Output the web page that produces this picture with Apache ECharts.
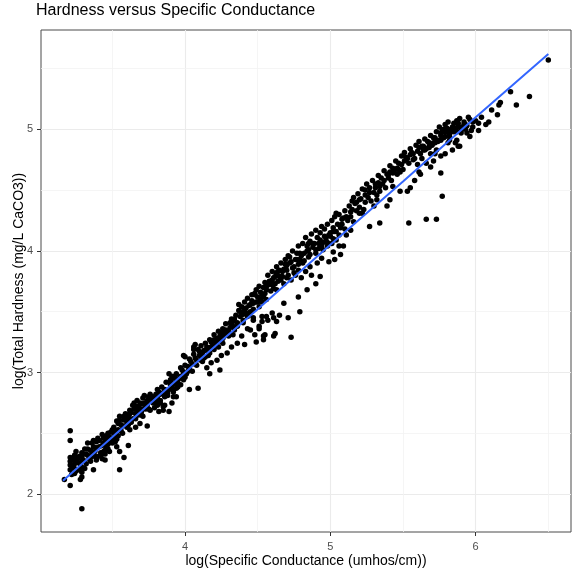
<!DOCTYPE html>
<html><head><meta charset="utf-8">
<script src="https://cdn.jsdelivr.net/npm/echarts@6/dist/echarts.min.js"></script>
<style>html,body{margin:0;padding:0;background:#fff}#c{width:573px;height:571px}</style>
</head><body><div id="c"></div>
<script>
const chartTitle = 'Hardness versus Specific Conductance';
const xTitle = 'log(Specific Conductance (umhos/cm))';
const yTitle = 'log(Total Hardness (mg/L CaCO3))';
const xTicks = [4, 5, 6];
const yTicks = [2, 3, 4, 5];
const xMinorGrid = [3.5, 4.5, 5.5, 6.5];
const yMinorGrid = [2.5, 3.5, 4.5, 5.5];
const xRange = [3.009, 6.656];
const yRange = [1.688, 5.817];

// smoothed fit line
const fitX = [3.16, 3.5, 4.0, 4.5, 5.0, 5.5, 6.0, 6.5];
const fitY = [2.11, 2.47, 3.00, 3.52, 4.05, 4.57, 5.10, 5.62];

// observations [log conductance, log hardness]
const obsLow = [
[3.17,2.12],[3.21,2.07],[3.21,2.52],[3.21,2.44],[3.21,2.30],[3.21,2.27],[3.21,2.24],[3.21,2.20],[3.22,2.16],[3.24,2.32],[3.24,2.28],[3.24,2.25],[3.24,2.21],[3.24,2.17],[3.25,2.35],[3.26,2.29],[3.26,2.26],[3.29,2.34],[3.29,2.31],[3.29,2.27],[3.29,2.22],[3.29,2.18],[3.29,2.14],[3.29,1.88],[3.28,2.12],[3.27,2.20],
[3.33,2.42],[3.35,2.36],[3.37,2.39],[3.39,2.43],[3.40,2.46],[3.43,2.49],[3.44,2.42],[3.46,2.44],[3.38,2.31],[3.42,2.32],[3.45,2.36],[3.46,2.39],[3.35,2.27],[3.37,2.20],[3.43,2.29],[3.47,2.50],[3.50,2.53],[3.50,2.46],[3.48,2.35],[3.45,2.28],[3.32,2.25],[3.33,2.32],
[3.30,2.28],[3.31,2.37],[3.32,2.33],[3.35,2.30],[3.36,2.42],[3.38,2.35],[3.39,2.28],[3.41,2.39],[3.42,2.34],[3.44,2.46],[3.45,2.33],[3.47,2.41],[3.48,2.47],
[3.22,2.23],[3.23,2.29],[3.25,2.19],[3.27,2.31],[3.28,2.24],[3.30,2.33],[3.31,2.21],[3.33,2.37],[3.34,2.29],[3.36,2.34],[3.37,2.44],[3.39,2.38],[3.40,2.31],[3.41,2.44],[3.43,2.40],[3.44,2.35],[3.46,2.48],[3.47,2.37],[3.49,2.44],[3.49,2.51]
];
const obsMidLow = [
[3.51,2.55],[3.52,2.49],[3.53,2.60],[3.54,2.53],[3.55,2.64],[3.56,2.57],[3.58,2.61],[3.59,2.66],[3.60,2.55],[3.61,2.64],[3.62,2.69],[3.63,2.61],[3.64,2.73],[3.66,2.66],[3.67,2.77],[3.68,2.71],[3.69,2.75],[3.70,2.68],[3.71,2.79],[3.73,2.72],[3.74,2.76],[3.75,2.80],[3.76,2.82],[3.76,2.69],
[3.55,2.35],[3.58,2.30],[3.55,2.20],[3.61,2.40],[3.69,2.58],[3.74,2.56],[3.52,2.43],[3.53,2.39],[3.62,2.53],[3.66,2.55],[3.71,2.64],
[3.50,2.42],[3.51,2.50],[3.53,2.45],[3.54,2.58],[3.56,2.52],[3.57,2.56],[3.59,2.62],[3.60,2.58],[3.62,2.66],[3.63,2.59],[3.65,2.70],[3.66,2.62],[3.67,2.68],[3.69,2.70],[3.70,2.65],[3.72,2.75],[3.73,2.70],[3.75,2.78],
[3.74,2.77],[3.77,2.80],[3.81,2.79],[3.83,2.75],[3.85,2.72],[3.79,2.71],[3.84,2.83],[3.86,2.86],[3.87,2.82],[3.90,2.94],[3.91,2.88],[3.92,2.84],[3.89,2.99],[3.93,2.97],[3.94,2.87],[3.92,2.80],[3.97,2.90],[3.99,2.94],[4.01,2.99],[4.00,3.13],[4.03,3.04],[4.06,3.21],[4.06,3.19],[4.03,2.86],[4.09,2.87],
[3.79,2.80],[3.83,2.77],[3.85,2.69],[3.89,2.68],[3.82,2.68],[3.88,2.81],[3.92,2.86],[3.94,2.80],[3.95,2.88],[3.91,2.75],[3.86,2.73],[3.81,2.73],
[3.80,2.76],[3.82,2.84],[3.88,2.83],[3.90,2.92],[3.93,2.95],[3.95,2.92],[3.97,2.97],[3.98,3.02],[4.00,2.96],[4.02,3.05],
[3.52,2.52],[3.54,2.48],[3.55,2.61],[3.57,2.50],[3.58,2.64],[3.60,2.61],[3.61,2.57],[3.63,2.67],[3.64,2.62],[3.65,2.75],[3.67,2.72],[3.68,2.65],[3.70,2.74],[3.71,2.70],[3.72,2.81],[3.74,2.73],[3.75,2.70],[3.77,2.78],[3.78,2.75],[3.80,2.82],
[3.81,2.86],[3.83,2.82],[3.84,2.88],[3.86,2.80],[3.87,2.92],[3.89,2.86],[3.90,2.90],[3.91,2.97],[3.93,2.91],[3.94,2.99],[3.96,2.95],[3.97,3.04],[3.99,3.00],[4.00,3.06],[4.02,3.01],[4.03,3.11],[4.05,3.07],[4.06,3.15],[4.08,3.10],[4.09,3.19]
];
const obsMid = [
[4.07,3.23],[4.10,3.17],[4.13,3.12],[4.15,3.21],[4.16,3.14],[4.18,3.25],[4.20,3.19],[4.22,3.28],[4.23,3.21],[4.25,3.32],[4.26,3.24],[4.28,3.35],[4.30,3.30],[4.31,3.41],[4.33,3.42],[4.34,3.35],
[4.12,3.09],[4.15,3.04],[4.18,3.08],[4.22,3.10],[4.25,3.14],[4.29,3.16],[4.32,3.21],[4.36,3.24],[4.24,3.02],[4.17,2.99],[3.99,3.14],
[4.04,3.09],[4.05,3.01],[4.07,3.12],[4.08,3.06],[4.10,3.14],[4.11,3.10],[4.13,3.18],[4.14,3.13],[4.16,3.20],[4.17,3.16],[4.19,3.22],[4.20,3.27],[4.22,3.24],[4.24,3.30],[4.26,3.28],[4.27,3.33],[4.29,3.31],[4.31,3.37],[4.33,3.38],
[4.37,3.56],[4.38,3.50],[4.48,3.64],[4.53,3.58],[4.55,3.65],[4.57,3.72],[4.59,3.67],[4.62,3.73],[4.63,3.68],[4.51,3.54],[4.45,3.50],[4.43,3.46],
[4.40,3.41],[4.43,3.36],[4.45,3.35],[4.48,3.31],[4.51,3.36],[4.49,3.25],[4.54,3.27],[4.55,3.31],[4.62,3.32],[4.57,3.43],[4.60,3.49],[4.63,3.42],[4.47,3.43],[4.53,3.46],[4.39,3.30],[4.41,3.23],
[4.39,3.54],[4.41,3.51],[4.44,3.47],[4.47,3.45],[4.40,3.43],[4.48,3.65],[4.47,3.57],[4.52,3.60],[4.54,3.62],[4.57,3.73],[4.60,3.76],[4.61,3.69],[4.63,3.82],[4.64,3.75],[4.67,3.79],[4.56,3.60],[4.68,3.57],[4.54,3.30],[4.61,3.30],[4.51,3.38],[4.53,3.42],[4.56,3.46],[4.61,3.45],[4.65,3.47],
[4.34,3.44],[4.36,3.41],[4.38,3.46],[4.40,3.48],[4.42,3.53],[4.44,3.55],[4.46,3.59],[4.49,3.58],[4.50,3.62],[4.52,3.66],[4.54,3.70],[4.56,3.68],[4.58,3.75],[4.60,3.72],[4.62,3.79],[4.64,3.83],
[4.11,3.22],[4.12,3.15],[4.14,3.24],[4.15,3.18],[4.17,3.27],[4.18,3.21],[4.20,3.31],[4.21,3.25],[4.23,3.34],[4.24,3.27],[4.26,3.36],[4.27,3.30],[4.28,3.40],[4.30,3.34],[4.32,3.44],[4.33,3.31],[4.35,3.47],[4.36,3.38],[4.37,3.51],[4.39,3.48],
[4.41,3.58],[4.42,3.49],[4.43,3.61],[4.45,3.56],[4.46,3.64],[4.47,3.52],[4.49,3.68],[4.50,3.58],[4.51,3.71],[4.53,3.64],[4.55,3.74],[4.56,3.71],[4.57,3.80],[4.59,3.73],[4.60,3.83],[4.61,3.78],[4.63,3.87],[4.65,3.84],[4.66,3.90],[4.67,3.83],[4.69,3.93],[4.70,3.88]
];
const obsMidHigh = [
[4.70,3.84],[4.72,3.95],[4.73,3.76],[4.75,3.87],[4.77,3.93],[4.78,3.84],[4.79,3.98],[4.80,3.78],[4.81,3.90],[4.84,4.04],[4.85,3.95],[4.86,3.87],[4.87,3.80],[4.88,4.06],[4.90,3.98],[4.91,3.90],[4.92,4.02],[4.93,4.09],[4.94,3.94],[4.95,4.01],[4.96,4.12],[4.98,4.04],[4.99,3.91],[5.00,4.15],[5.01,4.06],[5.02,3.99],[5.03,4.16],[5.04,4.09],[5.06,4.04],[5.07,4.19],[4.65,3.79],[4.68,3.73],[4.69,3.89],[4.71,3.80],[4.76,3.80],[4.83,3.83],[4.85,4.06],
[4.71,3.45],[4.79,3.50],[4.73,3.29],[4.78,3.62],[4.84,3.68],[4.90,3.73],[5.03,3.93],[5.07,3.97],[5.09,4.04],[4.93,3.79],
[4.66,3.76],[4.68,3.85],[4.70,3.78],[4.72,3.90],[4.74,3.86],[4.76,3.93],[4.78,3.89],[4.80,3.96],[4.82,3.92],[4.84,4.00],[4.86,3.97],[4.88,4.03],[4.90,4.01],[4.92,4.06],[4.94,4.04],[4.97,4.10],[4.98,4.07],[5.00,4.12],[5.02,4.10],[5.04,4.16],[5.06,4.13],
[4.71,3.96],[4.73,3.91],[4.74,4.00],[4.75,3.82],[4.77,3.98],[4.78,4.04],[4.79,3.93],[4.81,4.06],[4.82,3.98],[4.83,4.11],[4.85,4.01],[4.86,4.08],[4.87,4.14],[4.89,4.06],[4.90,4.17],[4.91,4.11],[4.93,4.15],[4.94,4.20],[4.95,4.07],[4.96,4.18],[4.98,4.22],[4.99,4.13],[5.01,4.25],[5.02,4.19],[5.03,4.28],[5.05,4.22],[5.06,4.30],[5.08,4.26]
];
const obsHigh = [
[5.04,4.31],[5.09,4.27],[5.14,4.32],[5.15,4.41],[5.17,4.39],[5.20,4.42],[5.24,4.50],[5.27,4.48],[5.31,4.52],[5.33,4.56],[5.34,4.49],[5.37,4.58],[5.40,4.63],[5.41,4.65],[5.43,4.64],[5.46,4.68],[5.48,4.65],[5.49,4.71],[5.51,4.74],[5.55,4.79],[5.57,4.75],[5.60,4.71],[5.61,4.85],[5.63,4.76],[5.65,4.83],[5.68,4.85],[5.69,4.80],[5.72,4.89],[5.73,4.83],[5.76,4.91],[5.78,4.98],[5.79,4.94],[5.81,5.00],[5.82,4.91],[5.85,5.01],[5.87,4.98],[5.89,5.02],[5.90,4.97],[5.93,5.04],
[5.27,4.20],[5.34,4.23],[5.39,4.37],[5.41,4.42],[5.48,4.49],[5.53,4.49],[5.55,4.52],[5.62,4.63],[5.66,4.72],[5.69,4.69],[5.71,4.74],[5.76,4.64],[5.77,4.45],[5.54,4.23],[5.66,4.26],[5.73,4.26],[5.86,4.89],[5.88,4.86],[5.23,4.34],[5.14,4.17],[5.07,4.20],[5.02,4.16],[5.11,4.13],[5.20,4.31],[5.30,4.37],[5.32,4.42],[5.43,4.53],[5.58,4.58],[5.61,4.65],
[5.08,4.22],[5.10,4.18],[5.12,4.25],[5.14,4.28],[5.16,4.24],[5.18,4.33],[5.20,4.36],[5.22,4.31],[5.24,4.40],[5.26,4.44],[5.28,4.41],[5.30,4.48],[5.32,4.46],[5.34,4.53],[5.36,4.55],[5.38,4.52],[5.40,4.60],[5.42,4.58],[5.44,4.66],[5.46,4.63],[5.47,4.72],[5.50,4.67],[5.52,4.77],[5.54,4.72],[5.56,4.81],[5.58,4.76],[5.60,4.82],
[5.10,4.33],[5.11,4.28],[5.13,4.37],[5.15,4.34],[5.16,4.44],[5.18,4.40],[5.19,4.47],[5.21,4.43],[5.22,4.51],[5.24,4.46],[5.25,4.55],[5.27,4.52],[5.29,4.58],[5.31,4.55],[5.33,4.62],[5.35,4.60],[5.37,4.66],[5.39,4.63],[5.41,4.70],[5.43,4.68],[5.45,4.74],[5.47,4.67],[5.49,4.78],[5.51,4.81],[5.53,4.76],[5.55,4.84],[5.57,4.80],[5.59,4.87]
];
const obsTop = [
[5.64,4.83],[5.68,4.86],[5.71,4.89],[5.74,4.91],[5.76,4.97],[5.78,5.00],[5.80,5.01],[5.82,4.94],[5.85,4.98],[5.86,5.01],[5.88,5.02],[5.90,4.99],[5.92,5.04],[5.77,4.93],[5.81,4.89],[5.84,4.83],[5.87,4.91],[5.89,4.86],[5.94,4.97],[5.96,4.94],[5.72,4.80],[5.79,4.80],[5.76,4.78],
[6.50,5.57],[6.24,5.31],[6.37,5.27],[6.28,5.20],[6.17,5.22],[6.16,5.20],[6.11,5.16],[6.15,5.12],[6.09,5.06],[6.07,5.04],[6.04,5.10],[6.02,4.99],[5.98,5.06],[5.93,5.00],
[5.62,4.80],[5.64,4.86],[5.66,4.84],[5.68,4.89],[5.70,4.87],[5.72,4.93],[5.74,4.90],[5.76,4.95],[5.78,4.93],[5.80,4.98],[5.82,4.96],[5.84,5.02],[5.86,4.99],[5.88,5.05],[5.92,5.06],[5.94,5.03],[5.96,5.08],[5.98,5.02],[6.00,5.07],[6.02,5.05],
[5.61,4.90],[5.63,4.86],[5.65,4.92],[5.67,4.90],[5.69,4.95],[5.71,4.93],[5.73,4.98],[5.75,5.02],[5.77,4.99],[5.79,5.04],[5.81,5.06],[5.83,4.99],[5.85,5.05],[5.87,5.07],[5.89,5.09],[5.91,5.02],[5.95,5.10],[5.97,4.99]
];

const points = [].concat(obsLow, obsMidLow, obsMid, obsMidHigh, obsHigh, obsTop);
const fitData = fitX.map((x, i) => [x, fitY[i]]);

const majorStyle = {color: '#EBEBEB', width: 1.1, type: 'solid'};
const minorStyle = {color: '#F3F3F3', width: 0.8, type: 'solid'};
const gridLineData = [
  ...xTicks.map(v => ({xAxis: v, lineStyle: majorStyle})),
  ...yTicks.map(v => ({yAxis: v, lineStyle: majorStyle})),
  ...xMinorGrid.map(v => ({xAxis: v, lineStyle: minorStyle})),
  ...yMinorGrid.map(v => ({yAxis: v, lineStyle: minorStyle}))
];

const font = "'Liberation Sans', Arial, sans-serif";
const chart = echarts.init(document.getElementById('c'), null, {renderer: 'canvas'});
chart.setOption({
  animation: false,
  backgroundColor: '#fff',
  title: {
    text: chartTitle, left: 36, top: 3, padding: 0,
    textStyle: {fontFamily: font, fontSize: 16, fontWeight: 'normal', color: '#000'}
  },
  grid: {left: 41, right: 2, top: 30, bottom: 39, outerBoundsMode: 'none', containLabel: false,
         show: true, borderColor: '#4a4a4a', borderWidth: 1, backgroundColor: 'transparent'},
  xAxis: {
    type: 'value', min: xRange[0], max: xRange[1],
    name: xTitle, nameLocation: 'middle', nameGap: 22, nameMoveOverlap: false,
    nameTextStyle: {fontFamily: font, fontSize: 14, color: '#000'},
    axisLine: {show: false},
    axisTick: {show: true, length: 4, customValues: xTicks, lineStyle: {color: '#333'}},
    axisLabel: {customValues: xTicks, margin: 9, fontFamily: font, fontSize: 11, color: '#4D4D4D'},
    splitLine: {show: false}
  },
  yAxis: {
    type: 'value', min: yRange[0], max: yRange[1],
    name: yTitle, nameLocation: 'middle', nameGap: 22, nameRotate: 90, nameMoveOverlap: false,
    nameTextStyle: {fontFamily: font, fontSize: 14, color: '#000', verticalAlign: 'middle'},
    axisLine: {show: false},
    axisTick: {show: true, length: 4, customValues: yTicks, lineStyle: {color: '#333'}},
    axisLabel: {customValues: yTicks, margin: 8, fontFamily: font, fontSize: 11, color: '#4D4D4D'},
    splitLine: {show: false}
  },
  series: [
    {
      type: 'scatter', data: points, symbolSize: 5.5, z: 3,
      itemStyle: {color: '#000', opacity: 1}, silent: true,
      markLine: {silent: true, z: 1, symbol: ['none', 'none'], label: {show: false}, animation: false, data: gridLineData}
    },
    {
      type: 'line', data: fitData, z: 4, showSymbol: false, symbol: 'none', silent: true,
      lineStyle: {color: '#3366FF', width: 2}
    }
  ]
});
</script></body></html>
